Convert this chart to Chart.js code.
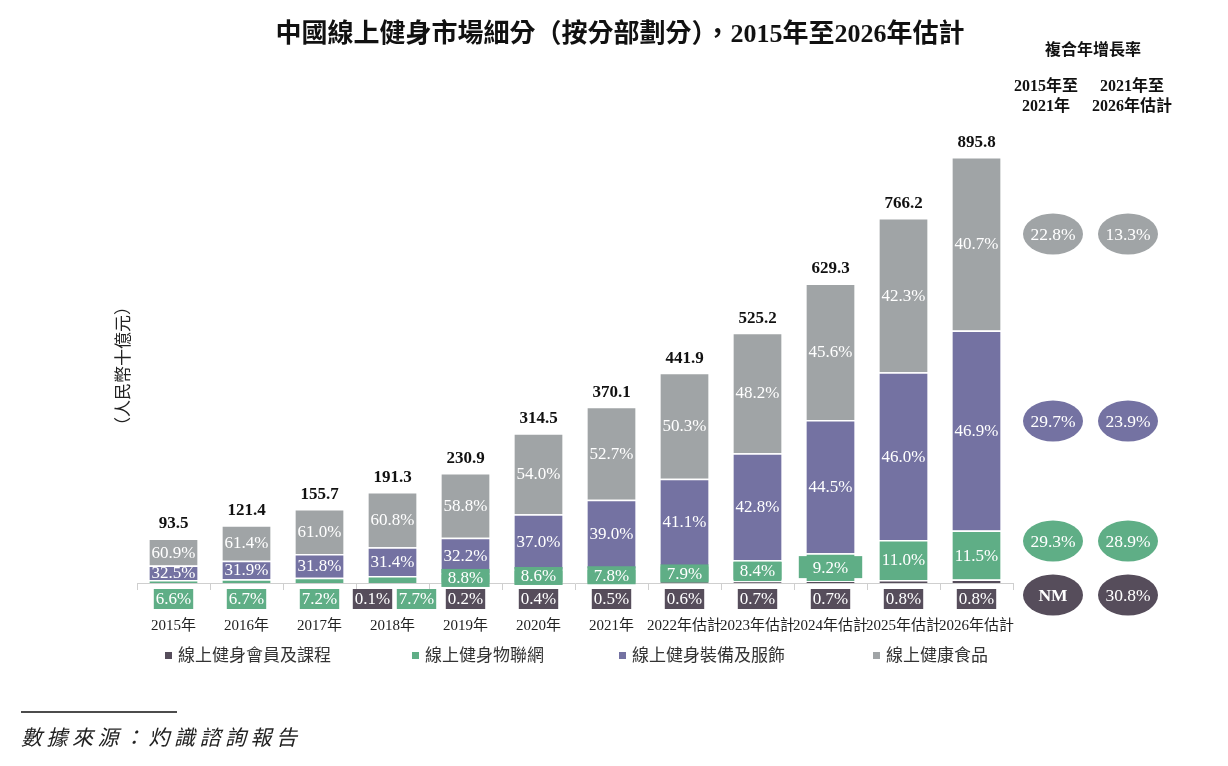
<!DOCTYPE html>
<html>
<head>
<meta charset="utf-8">
<script src="https://cdn.jsdelivr.net/npm/chart.js@4"></script>
<style>
  html, body { margin: 0; padding: 0; background: #fff; }
  #wrap { width: 1228px; height: 766px; position: relative; }
</style>
</head>
<body>
<div id="wrap"><canvas id="c"></canvas></div>
<script>
// ---------- data ----------
const years = ['2015年','2016年','2017年','2018年','2019年','2020年','2021年','2022年估計','2023年估計','2024年估計','2025年估計','2026年估計'];
const totals = [93.5,121.4,155.7,191.3,230.9,314.5,370.1,441.9,525.2,629.3,766.2,895.8];
// share of each segment (%)
const pctMember = [0,0,0,0.1,0.2,0.4,0.5,0.6,0.7,0.7,0.8,0.8];
const pctIot    = [6.6,6.7,7.2,7.7,8.8,8.6,7.8,7.9,8.4,9.2,11.0,11.5];
const pctGear   = [32.5,31.9,31.8,31.4,32.2,37.0,39.0,41.1,42.8,44.5,46.0,46.9];
const pctFood   = [60.9,61.4,61.0,60.8,58.8,54.0,52.7,50.3,48.2,45.6,42.3,40.7];
const seriesNames = ['線上健身會員及課程','線上健身物聯網','線上健身裝備及服飾','線上健康食品'];
// CAGR, in series order (member, iot, gear, food)
const cagr2015to2021 = ['NM','29.3%','29.7%','22.8%'];
const cagr2021to2026 = ['30.8%','28.9%','23.9%','13.3%'];

const COLORS = ['#564D5B','#5FAE86','#7472A2','#A0A4A6'];
const SERIF = '"Liberation Serif", "Noto Sans CJK TC", serif';
const CJK = '"Noto Sans CJK TC", "Liberation Serif", sans-serif';

const pctSets = [pctMember, pctIot, pctGear, pctFood];
const segValues = pctSets.map(p => p.map((v, i) => totals[i] * v / 100));

const datasets = seriesNames.map((name, k) => ({
  label: name,
  data: segValues[k],
  backgroundColor: COLORS[k],
  borderColor: '#ffffff',
  borderWidth: {top: 1.5, left: 0, right: 0, bottom: 0},
  borderSkipped: 'start',
  stack: 's',
  barPercentage: 0.66,
  categoryPercentage: 1.0
}));

function fmt(v){ return v.toFixed(1) + '%'; }

function box(ctx, cx, cy, w, h, color){
  ctx.fillStyle = color;
  ctx.fillRect(cx - w/2, cy - h/2, w, h);
}

const labelPlugin = {
  id: 'labels',
  afterDatasetsDraw(chart){
    const ctx = chart.ctx;
    const area = chart.chartArea;
    ctx.save();
    ctx.textAlign = 'center';
    ctx.textBaseline = 'middle';
    ctx.font = '17px ' + SERIF;
    const n = totals.length;
    const metas = [0,1,2,3].map(k => chart.getDatasetMeta(k));
    for (let i = 0; i < n; i++) {
      const els = metas.map(m => m.data[i].getProps(['x','y','base','width'], true));
      const x = els[0].x;
      const bw = els[0].width;
      // food & gear: centred white labels
      for (const k of [3,2]) {
        const e = els[k];
        ctx.fillStyle = '#fff';
        ctx.fillText(fmt(pctSets[k][i]), e.x, (e.y + e.base) / 2 + 1);
      }
      // iot
      const g = els[1];
      const gh = g.base - g.y;
      const gText = fmt(pctSets[1][i]);
      const gw = ctx.measureText(gText).width;
      const belowY = area.bottom + 16;
      const hasMember = pctSets[0][i] > 0;
      let memberX = x;
      if (gh < 8) {
        let gx = x;
        if (hasMember) { gx = x + 24; memberX = x - 20; }
        box(ctx, gx, belowY, gw + 4, 20, COLORS[1]);
        ctx.fillStyle = '#fff';
        ctx.fillText(gText, gx, belowY + 1);
      } else if (gh < 30) {
        const cy = (g.y + g.base) / 2;
        const wide = gh > 25;
        const w = wide ? gw + 28 : Math.max(bw, gw + 8);
        box(ctx, x, cy, w, wide ? 22 : 18, COLORS[1]);
        ctx.fillStyle = '#fff';
        ctx.fillText(gText, x, cy + 1);
      } else {
        ctx.fillStyle = '#fff';
        ctx.fillText(gText, x, (g.y + g.base) / 2 + 1);
      }
      // member
      if (hasMember) {
        const mText = fmt(pctSets[0][i]);
        const mw = ctx.measureText(mText).width;
        box(ctx, memberX, belowY, mw + 4, 20, COLORS[0]);
        ctx.fillStyle = '#fff';
        ctx.fillText(mText, memberX, belowY + 1);
      }
      // total on top
      const topY = els[3].y;
      ctx.font = 'bold 17px ' + SERIF;
      ctx.fillStyle = '#111';
      ctx.textBaseline = 'alphabetic';
      ctx.fillText(totals[i].toFixed(1), x, topY - 10);
      ctx.textBaseline = 'middle';
      ctx.font = '17px ' + SERIF;
    }
    ctx.restore();
  },
  afterDraw(chart){
    const ctx = chart.ctx;
    ctx.save();
    // title
    ctx.textAlign = 'center';
    ctx.textBaseline = 'middle';
    ctx.fillStyle = '#111';
    ctx.font = 'bold 26px ' + SERIF;
    ctx.fillText('中國線上健身市場細分（按分部劃分），2015年至2026年估計', 620, 35);
    // CAGR header
    ctx.font = 'bold 16px ' + SERIF;
    ctx.fillText('複合年增長率', 1093, 51);
    ctx.fillText('2015年至', 1046, 87);
    ctx.fillText('2021年', 1046, 107);
    ctx.fillText('2021年至', 1132, 87);
    ctx.fillText('2026年估計', 1132, 107);
    // CAGR ellipses
    const ys = [595, 541, 421, 234];
    const xs = [1053, 1128];
    const cols = [cagr2015to2021, cagr2021to2026];
    for (let k = 0; k < 4; k++) {
      for (let c = 0; c < 2; c++) {
        ctx.fillStyle = COLORS[k];
        ctx.beginPath();
        ctx.ellipse(xs[c], ys[k], 30, 20.5, 0, 0, Math.PI * 2);
        ctx.fill();
        const t = cols[c][k];
        ctx.fillStyle = '#fff';
        ctx.font = (t === 'NM' ? 'bold ' : '') + '17.5px ' + SERIF;
        ctx.fillText(t, xs[c], ys[k] + 1);
      }
    }
    // y-axis label (rotated)
    ctx.save();
    ctx.translate(123, 366);
    ctx.rotate(-Math.PI / 2);
    ctx.font = '17px ' + CJK;
    ctx.fillStyle = '#222';
    ctx.fillText('（人民幣十億元）', 0, 0);
    ctx.restore();
    // legend
    const lx = [168, 415, 622, 876];
    ctx.textAlign = 'left';
    ctx.font = '17px ' + CJK;
    chart.data.datasets.forEach((ds, k) => {
      ctx.fillStyle = ds.backgroundColor;
      ctx.fillRect(lx[k] - 3, 652, 7, 7);
      ctx.fillStyle = '#333';
      ctx.fillText(ds.label, lx[k] + 10, 655);
    });
    // source
    ctx.strokeStyle = '#111';
    ctx.lineWidth = 1.5;
    ctx.beginPath();
    ctx.moveTo(21, 712);
    ctx.lineTo(177, 712);
    ctx.stroke();
    ctx.font = 'italic 21px ' + CJK;
    ctx.fillStyle = '#222';
    ctx.letterSpacing = '4.5px';
    ctx.fillText('數據來源：灼識諮詢報告', 21, 737);
    ctx.restore();
  }
};

new Chart(document.getElementById('c'), {
  type: 'bar',
  data: { labels: years, datasets },
  options: {
    responsive: true,
    maintainAspectRatio: false,
    animation: false,
    layout: { padding: { left: 137, right: 215, top: 107, bottom: 123 } },
    plugins: { legend: { display: false }, title: { display: false }, tooltip: { enabled: false } },
    scales: {
      x: {
        stacked: true,
        grid: { display: true, drawOnChartArea: false, drawTicks: true, tickLength: 7, color: '#cfcfcf', offset: true },
        border: { display: true, color: '#cfcfcf', width: 1 },
        ticks: { font: { family: SERIF, size: 15 }, color: '#222', padding: 27, maxRotation: 0, autoSkip: false },
        afterFit(s){ s.height = 60; }
      },
      y: {
        stacked: true,
        display: false,
        min: 0,
        max: 1000
      }
    }
  },
  plugins: [labelPlugin]
});
</script>
</body>
</html>
